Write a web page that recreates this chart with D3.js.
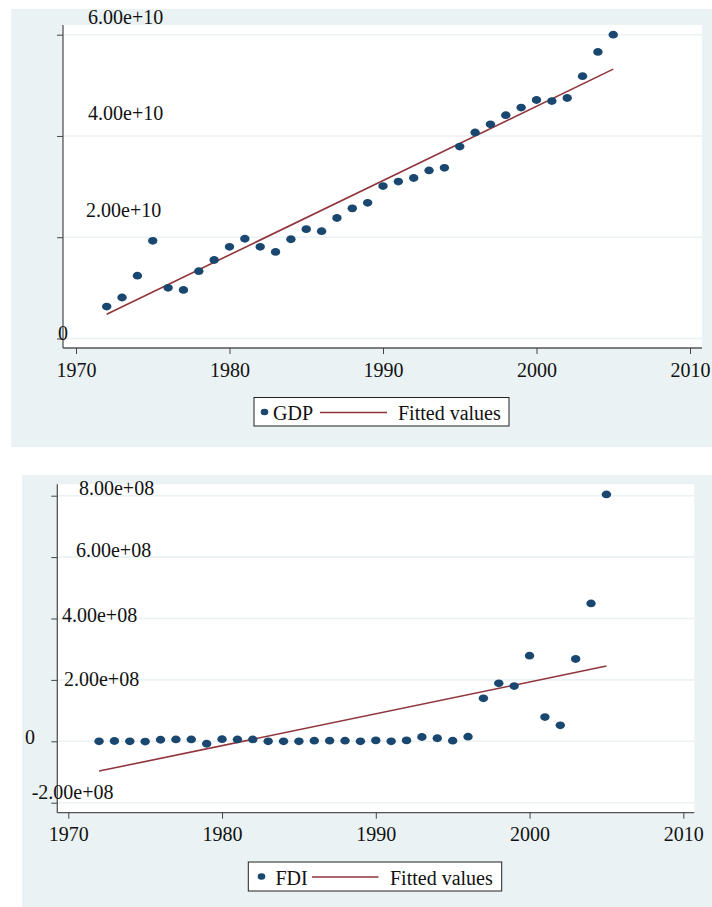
<!DOCTYPE html>
<html>
<head>
<meta charset="utf-8">
<script src="https://cdn.jsdelivr.net/npm/d3@7"></script>
<style>
  body { margin: 0; background: #ffffff; }
  svg { display: block; font-family: "Liberation Serif", "DejaVu Serif", serif; }
</style>
</head>
<body>
<svg id="drawing_region"></svg>
<script>
// data
const years = d3.range(1972, 2006);

const gdp = [6.3e9, 8.1e9, 1.24e10, 1.93e10, 1.00e10, 0.96e10, 1.33e10, 1.55e10, 1.81e10, 1.97e10,
             1.81e10, 1.71e10, 1.96e10, 2.16e10, 2.12e10, 2.38e10, 2.57e10, 2.68e10, 3.01e10, 3.10e10,
             3.17e10, 3.32e10, 3.37e10, 3.79e10, 4.07e10, 4.23e10, 4.41e10, 4.56e10, 4.71e10, 4.69e10,
             4.75e10, 5.18e10, 5.66e10, 6.00e10];
const gdpFitYears = [1972, 2005];
const gdpFit = [4.78e9, 5.32e10];
const gdpTicks = [0, 2e10, 4e10, 6e10];
const gdpTickLabels = ["0", "2.00e+10", "4.00e+10", "6.00e+10"];

const fdi = [0, 1e6, 0, -1e6, 5e6, 6e6, 6e6, -8e6, 7e6, 6e6,
             6e6, 0, 0, 0, 2e6, 2e6, 2e6, 0, 3e6, 0,
             3e6, 1.4e7, 1.0e7, 2e6, 1.5e7, 1.40e8, 1.89e8, 1.80e8, 2.79e8, 7.9e7,
             5.2e7, 2.68e8, 4.49e8, 8.04e8];
const fdiFitYears = [1972, 2005];
const fdiFit = [-0.97e8, 2.45e8];
const fdiTicks = [-2e8, 0, 2e8, 4e8, 6e8, 8e8];
const fdiTickLabels = ["-2.00e+08", "0", "2.00e+08", "4.00e+08", "6.00e+08", "8.00e+08"];

const xTicks = [1970, 1980, 1990, 2000, 2010];

const svg = d3.select('#drawing_region')
    .attr('width', 712)
    .attr('height', 907);

class ScatterFit {

    constructor( config ) {
        this.config = config;
        this.init();
    }

    init() {
        let self = this;
        const c = self.config;

        self.g = svg.append('g');

        // outer (graph region) background
        self.g.append('rect')
            .attr('x', c.panel.x).attr('y', c.panel.y)
            .attr('width', c.panel.w).attr('height', c.panel.h)
            .attr('fill', '#eaf2f3');

        // plot region
        self.g.append('rect')
            .attr('x', c.plot.left).attr('y', c.plot.top)
            .attr('width', c.plot.right - c.plot.left)
            .attr('height', c.plot.bottom - c.plot.top)
            .attr('fill', '#ffffff');

        self.xscale = d3.scaleLinear()
            .domain([1970, 2010])
            .range(c.xrange);

        self.yscale = d3.scaleLinear()
            .domain(c.ydomain)
            .range(c.yrange);

        // gridlines
        self.g.append('g')
            .selectAll('line')
            .data(c.yticks)
            .join('line')
            .attr('x1', c.plot.left + 1)
            .attr('x2', c.plot.right)
            .attr('y1', d => self.yscale(d))
            .attr('y2', d => self.yscale(d))
            .attr('stroke', '#eaf2f3')
            .attr('stroke-width', 1.6);

        // x axis
        self.xaxis = d3.axisBottom(self.xscale)
            .tickValues(xTicks)
            .tickFormat(d3.format('d'))
            .tickSize(6)
            .tickSizeOuter(0);

        self.xaxis_group = self.g.append('g')
            .attr('transform', `translate(0, ${c.plot.bottom})`)
            .call(self.xaxis);
        self.xaxis_group.select('.domain')
            .attr('d', `M${c.plot.left},0H${c.plot.right}`)
            .attr('stroke', '#555').attr('stroke-width', 1.3);
        self.xaxis_group.selectAll('.tick line').attr('stroke', '#444');
        self.xaxis_group.selectAll('.tick text')
            .attr('y', 0).attr('dy', 28.5)
            .attr('font-size', 20)
            .attr('font-family', '"Liberation Serif", serif')
            .attr('fill', '#111');

        // y axis (labels sit off the ticks as in the original export)
        self.yaxis = d3.axisLeft(self.yscale)
            .tickValues(c.yticks)
            .tickFormat((d, i) => c.ylabels[i])
            .tickSize(6)
            .tickSizeOuter(0);

        self.yaxis_group = self.g.append('g')
            .attr('transform', `translate(${c.plot.left}, 0)`)
            .call(self.yaxis);
        self.yaxis_group.select('.domain')
            .attr('d', `M0,${c.plot.top}V${c.plot.bottom}`)
            .attr('stroke', '#555').attr('stroke-width', 1.3);
        self.yaxis_group.selectAll('.tick line').attr('stroke', '#444');
        self.yaxis_group.selectAll('.tick text')
            .attr('text-anchor', 'start')
            .attr('x', (d, i) => c.labelNudge[i][0] - c.plot.left)
            .attr('y', (d, i) => c.labelNudge[i][1] - self.yscale(d))
            .attr('dy', 0)
            .attr('font-size', 20)
            .attr('font-family', '"Liberation Serif", serif')
            .attr('fill', '#111');
    }

    render() {
        let self = this;
        const c = self.config;

        const fitData = c.fitYears.map((y, i) => ({year: y, value: c.fit[i]}));
        const line = d3.line()
            .x(d => self.xscale(d.year))
            .y(d => self.yscale(d.value));

        self.g.append('path')
            .datum(fitData)
            .attr('d', line)
            .attr('fill', 'none')
            .attr('stroke', '#90353b')
            .attr('stroke-width', 1.6);

        self.g.append('g')
            .selectAll('ellipse')
            .data(c.values.map((v, i) => ({year: years[i], value: v})))
            .join('ellipse')
            .attr('cx', d => self.xscale(d.year))
            .attr('cy', d => self.yscale(d.value))
            .attr('rx', 4.7)
            .attr('ry', 3.9)
            .attr('fill', '#1a476f');

        // legend
        const L = c.legend;
        const lg = self.g.append('g');
        lg.append('rect')
            .attr('x', L.x).attr('y', L.y)
            .attr('width', L.w).attr('height', L.h)
            .attr('fill', '#ffffff')
            .attr('stroke', '#222').attr('stroke-width', 1);
        lg.append('ellipse')
            .attr('cx', L.markerX).attr('cy', L.y + 14.5)
            .attr('rx', 3.8).attr('ry', 3.3)
            .attr('fill', '#1a476f');
        lg.append('text')
            .attr('x', L.nameX).attr('y', L.y + 22.5)
            .attr('font-size', 20)
            .attr('fill', '#111')
            .text(c.name);
        lg.append('line')
            .attr('x1', L.lineX1).attr('x2', L.lineX2)
            .attr('y1', L.y + 15).attr('y2', L.y + 15)
            .attr('stroke', '#90353b').attr('stroke-width', 1.6);
        lg.append('text')
            .attr('x', L.fitX).attr('y', L.y + 22.5)
            .attr('font-size', 20)
            .attr('fill', '#111')
            .text('Fitted values');
    }
}

const top_chart = new ScatterFit({
    name: 'GDP',
    values: gdp,
    fitYears: gdpFitYears,
    fit: gdpFit,
    yticks: gdpTicks,
    ylabels: gdpTickLabels,
    ydomain: [0, 6e10],
    yrange: [338.5, 34.7],
    xrange: [76, 690],
    panel: {x: 11, y: 9, w: 701, h: 438},
    plot: {left: 63, right: 702, top: 25, bottom: 348},
    labelNudge: [[58, 339.5], [86, 216], [88, 119], [88, 23]],
    legend: {x: 254, y: 397.5, w: 255, h: 28.5, markerX: 264.5, nameX: 273, lineX1: 320, lineX2: 387, fitX: 398}
});
top_chart.render();

const bottom_chart = new ScatterFit({
    name: 'FDI',
    values: fdi,
    fitYears: fdiFitYears,
    fit: fdiFit,
    yticks: fdiTicks,
    ylabels: fdiTickLabels,
    ydomain: [-2e8, 8e8],
    yrange: [802.7, 495.7],
    xrange: [68.3, 683.3],
    panel: {x: 22, y: 475, w: 690, h: 432},
    plot: {left: 57.3, right: 694.3, top: 484.3, bottom: 812.7},
    labelNudge: [[31.7, 798.3], [25, 743.3], [64, 685], [62, 621.7], [76, 556.7], [79, 494.3]],
    legend: {x: 248.3, y: 862, w: 253.4, h: 29, markerX: 261.5, nameX: 275.5, lineX1: 312, lineX2: 378.5, fitX: 390}
});
bottom_chart.render();
</script>
</body>
</html>
